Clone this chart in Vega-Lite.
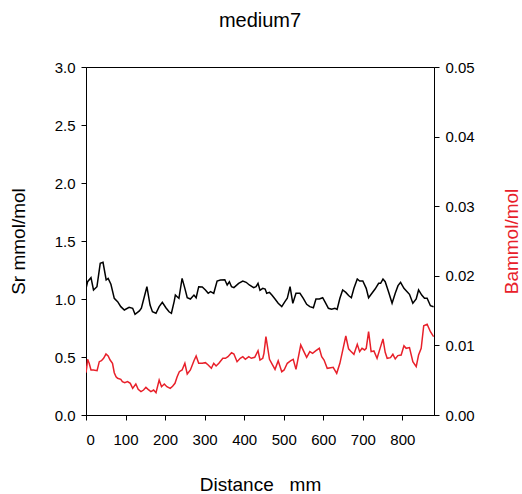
{
  "$schema": "https://vega.github.io/schema/vega-lite/v6.json",
  "width": 348,
  "height": 348,
  "autosize": {"type": "none"},
  "padding": {"left": 86, "top": 67, "right": 88, "bottom": 79},
  "background": "white",
  "title": {"text": "medium7", "fontSize": 20, "font": "Liberation Sans", "fontWeight": "normal", "anchor": "middle", "frame": "group", "baseline": "alphabetic", "offset": 13, "color": "black"},
  "config": {
    "view": {"stroke": "black", "strokeWidth": 1},
    "axis": {"labelFont": "Liberation Sans", "titleFont": "Liberation Sans", "labelFontSize": 15, "titleFontSize": 19, "titleFontWeight": "normal", "labelColor": "black", "titleColor": "black", "domainColor": "black", "tickColor": "black", "tickSize": 5, "grid": false, "labelPadding": 6}
  },
  "datasets": {
    "sr": [
      {"d": 0, "v": 1.09}, {"d": 4, "v": 1.149}, {"d": 12.6, "v": 1.184}, {"d": 19, "v": 1.078}, {"d": 27.7, "v": 1.106},
      {"d": 36, "v": 1.308}, {"d": 43, "v": 1.316}, {"d": 51, "v": 1.164}, {"d": 56, "v": 1.178}, {"d": 63, "v": 1.127},
      {"d": 71.5, "v": 1.006}, {"d": 80, "v": 0.977}, {"d": 88, "v": 0.934}, {"d": 97, "v": 0.905}, {"d": 109, "v": 0.928},
      {"d": 118, "v": 0.92}, {"d": 124, "v": 0.868}, {"d": 135, "v": 0.897}, {"d": 140, "v": 0.92}, {"d": 154, "v": 1.106},
      {"d": 162, "v": 0.948}, {"d": 168, "v": 0.89}, {"d": 177, "v": 0.877}, {"d": 185, "v": 0.934}, {"d": 193, "v": 0.972},
      {"d": 202, "v": 0.925}, {"d": 210, "v": 0.89}, {"d": 216, "v": 0.877}, {"d": 223, "v": 0.98}, {"d": 226, "v": 1.034},
      {"d": 230.5, "v": 1.02}, {"d": 235, "v": 1.006}, {"d": 243, "v": 1.178}, {"d": 250, "v": 1.092}, {"d": 256, "v": 1.011},
      {"d": 264, "v": 1.0}, {"d": 273, "v": 1.034}, {"d": 278.5, "v": 1.011}, {"d": 285, "v": 1.106}, {"d": 294, "v": 1.103},
      {"d": 302, "v": 1.078}, {"d": 309, "v": 1.049}, {"d": 315, "v": 1.063}, {"d": 323, "v": 1.049}, {"d": 331.5, "v": 1.155},
      {"d": 340, "v": 1.164}, {"d": 351, "v": 1.166}, {"d": 357, "v": 1.121}, {"d": 362.6, "v": 1.149}, {"d": 368, "v": 1.106},
      {"d": 374, "v": 1.098}, {"d": 386, "v": 1.135}, {"d": 396.5, "v": 1.155}, {"d": 405, "v": 1.144}, {"d": 413, "v": 1.121},
      {"d": 424, "v": 1.098}, {"d": 430, "v": 1.106}, {"d": 435, "v": 1.135}, {"d": 440, "v": 1.075}, {"d": 447, "v": 1.092},
      {"d": 453, "v": 1.086}, {"d": 457, "v": 1.049}, {"d": 464, "v": 1.057}, {"d": 470, "v": 1.034}, {"d": 478, "v": 1.0},
      {"d": 486, "v": 0.963}, {"d": 495, "v": 0.934}, {"d": 503, "v": 0.977}, {"d": 509, "v": 1.006}, {"d": 516, "v": 1.106},
      {"d": 523, "v": 0.963}, {"d": 531, "v": 1.049}, {"d": 541, "v": 1.049}, {"d": 549.5, "v": 1.006}, {"d": 558, "v": 0.954},
      {"d": 566, "v": 0.934}, {"d": 575, "v": 0.925}, {"d": 581.5, "v": 1.0}, {"d": 590, "v": 1.0}, {"d": 598.5, "v": 1.011},
      {"d": 604, "v": 0.977}, {"d": 613, "v": 0.92}, {"d": 621, "v": 0.911}, {"d": 629.5, "v": 0.92}, {"d": 635, "v": 0.911},
      {"d": 642, "v": 1.006}, {"d": 649, "v": 1.078}, {"d": 657, "v": 1.057}, {"d": 664, "v": 1.03}, {"d": 671, "v": 1.011},
      {"d": 677.5, "v": 1.092}, {"d": 686, "v": 1.172}, {"d": 692, "v": 1.155}, {"d": 700, "v": 1.155}, {"d": 708.6, "v": 1.092},
      {"d": 714.6, "v": 1.011}, {"d": 723, "v": 1.049}, {"d": 731, "v": 1.086}, {"d": 740, "v": 1.135}, {"d": 745, "v": 1.135},
      {"d": 751, "v": 1.172}, {"d": 756.6, "v": 1.149}, {"d": 765, "v": 1.063}, {"d": 774, "v": 0.963}, {"d": 782, "v": 1.049},
      {"d": 789, "v": 1.115}, {"d": 795.5, "v": 1.144}, {"d": 804, "v": 1.092}, {"d": 812, "v": 1.063}, {"d": 818, "v": 1.04},
      {"d": 826.5, "v": 0.963}, {"d": 835, "v": 1.0}, {"d": 841, "v": 1.078}, {"d": 849, "v": 1.034}, {"d": 856, "v": 1.006},
      {"d": 862.6, "v": 1.006}, {"d": 871, "v": 0.942}, {"d": 879, "v": 0.934}
    ],
    "ba": [
      {"d": 0, "v": 0.00608}, {"d": 2, "v": 0.0069}, {"d": 4, "v": 0.008}, {"d": 8, "v": 0.00743}, {"d": 12.6, "v": 0.00647},
      {"d": 19, "v": 0.00647}, {"d": 28, "v": 0.00637}, {"d": 33.6, "v": 0.00766}, {"d": 39, "v": 0.0078}, {"d": 44.5, "v": 0.00815},
      {"d": 50.5, "v": 0.00876}, {"d": 56, "v": 0.00848}, {"d": 61, "v": 0.0079}, {"d": 67, "v": 0.00743}, {"d": 71.5, "v": 0.00608},
      {"d": 76, "v": 0.0055}, {"d": 80, "v": 0.00527}, {"d": 88, "v": 0.00513}, {"d": 92, "v": 0.00479}, {"d": 98, "v": 0.00465},
      {"d": 105, "v": 0.00479}, {"d": 112, "v": 0.00455}, {"d": 118, "v": 0.00383}, {"d": 126, "v": 0.00445}, {"d": 132, "v": 0.00369},
      {"d": 139, "v": 0.00335}, {"d": 145.5, "v": 0.00359}, {"d": 151.5, "v": 0.00397}, {"d": 157, "v": 0.00369}, {"d": 164, "v": 0.00335},
      {"d": 171, "v": 0.00359}, {"d": 177, "v": 0.0032}, {"d": 185, "v": 0.00503}, {"d": 191, "v": 0.00407}, {"d": 198, "v": 0.00445},
      {"d": 204.5, "v": 0.00407}, {"d": 213, "v": 0.00383}, {"d": 219, "v": 0.00412}, {"d": 225, "v": 0.00455}, {"d": 230.5, "v": 0.0055},
      {"d": 236, "v": 0.00622}, {"d": 243, "v": 0.00647}, {"d": 250, "v": 0.00743}, {"d": 256, "v": 0.00589}, {"d": 264, "v": 0.00647},
      {"d": 273, "v": 0.0078}, {"d": 278.5, "v": 0.00848}, {"d": 285, "v": 0.00743}, {"d": 294, "v": 0.00743}, {"d": 302, "v": 0.00752},
      {"d": 309, "v": 0.00718}, {"d": 317, "v": 0.00671}, {"d": 323, "v": 0.00743}, {"d": 329, "v": 0.00704}, {"d": 336, "v": 0.00743},
      {"d": 346, "v": 0.00815}, {"d": 352.5, "v": 0.00815}, {"d": 359, "v": 0.00838}, {"d": 368, "v": 0.00895}, {"d": 374, "v": 0.00876},
      {"d": 382, "v": 0.00766}, {"d": 390, "v": 0.00815}, {"d": 396.5, "v": 0.00838}, {"d": 403, "v": 0.008}, {"d": 411.6, "v": 0.00838},
      {"d": 418, "v": 0.00815}, {"d": 426.7, "v": 0.00829}, {"d": 435, "v": 0.00924}, {"d": 440, "v": 0.0079}, {"d": 447, "v": 0.00815},
      {"d": 450, "v": 0.00886}, {"d": 455, "v": 0.01125}, {"d": 464, "v": 0.008}, {"d": 472, "v": 0.00718}, {"d": 478, "v": 0.00656},
      {"d": 486, "v": 0.0078}, {"d": 495, "v": 0.00622}, {"d": 501, "v": 0.00647}, {"d": 509, "v": 0.00743}, {"d": 518, "v": 0.0078},
      {"d": 524, "v": 0.008}, {"d": 531, "v": 0.00656}, {"d": 543, "v": 0.01006}, {"d": 551, "v": 0.0091}, {"d": 558, "v": 0.00829},
      {"d": 566, "v": 0.0091}, {"d": 573, "v": 0.00886}, {"d": 581.5, "v": 0.00924}, {"d": 590, "v": 0.00958}, {"d": 596, "v": 0.00838},
      {"d": 602, "v": 0.0079}, {"d": 610, "v": 0.00671}, {"d": 619, "v": 0.0068}, {"d": 625, "v": 0.00685}, {"d": 634, "v": 0.00599},
      {"d": 642, "v": 0.00743}, {"d": 649, "v": 0.00924}, {"d": 657, "v": 0.01135}, {"d": 664, "v": 0.0095}, {"d": 669, "v": 0.0092},
      {"d": 677.5, "v": 0.00872}, {"d": 686, "v": 0.01016}, {"d": 692, "v": 0.0091}, {"d": 698, "v": 0.00958}, {"d": 704.5, "v": 0.00934},
      {"d": 708.6, "v": 0.00958}, {"d": 714.6, "v": 0.01197}, {"d": 721, "v": 0.0091}, {"d": 728, "v": 0.0092}, {"d": 736, "v": 0.00815},
      {"d": 745, "v": 0.00982}, {"d": 751, "v": 0.01092}, {"d": 756.6, "v": 0.009}, {"d": 761.6, "v": 0.00815}, {"d": 770, "v": 0.00824},
      {"d": 776, "v": 0.00872}, {"d": 782, "v": 0.00805}, {"d": 788.6, "v": 0.00853}, {"d": 797, "v": 0.00862}, {"d": 804, "v": 0.00996},
      {"d": 809.6, "v": 0.00958}, {"d": 818, "v": 0.00968}, {"d": 826.5, "v": 0.00766}, {"d": 835, "v": 0.00694}, {"d": 841, "v": 0.00862},
      {"d": 847.6, "v": 0.00958}, {"d": 854, "v": 0.01283}, {"d": 862.6, "v": 0.01303}, {"d": 871, "v": 0.01197}, {"d": 879, "v": 0.01125}
    ]
  },
  "layer": [
    {
      "data": {"name": "sr"},
      "mark": {"type": "line", "color": "black", "strokeWidth": 1.5, "clip": true},
      "encoding": {
        "x": {"field": "d", "type": "quantitative", "scale": {"domain": [0, 880], "nice": false},
          "axis": {"values": [0, 100, 200, 300, 400, 500, 600, 700, 800], "title": "Distance\u00a0\u00a0\u00a0mm", "titleY": 69, "titleBaseline": "middle", "labelPadding": 12}},
        "y": {"field": "v", "type": "quantitative", "scale": {"domain": [0, 3], "nice": false},
          "axis": {"values": [0, 0.5, 1, 1.5, 2, 2.5, 3], "format": ".1f", "title": "Sr mmol/mol", "titleAngle": -90, "titleX": -68, "titleY": 174, "titleAlign": "center", "titleBaseline": "middle"}}
      }
    },
    {
      "data": {"name": "ba"},
      "mark": {"type": "line", "color": "#e8202a", "strokeWidth": 1.5, "clip": true},
      "encoding": {
        "x": {"field": "d", "type": "quantitative"},
        "y": {"field": "v", "type": "quantitative", "scale": {"domain": [0, 0.05], "nice": false},
          "axis": {"orient": "right", "values": [0, 0.01, 0.02, 0.03, 0.04, 0.05], "format": ".2f", "title": "Bammol/mol", "titleColor": "#e8202a", "titleAngle": -90, "titleX": 77, "titleY": 174, "titleAlign": "center", "titleBaseline": "middle"}}
      }
    }
  ],
  "resolve": {"scale": {"y": "independent"}}
}
